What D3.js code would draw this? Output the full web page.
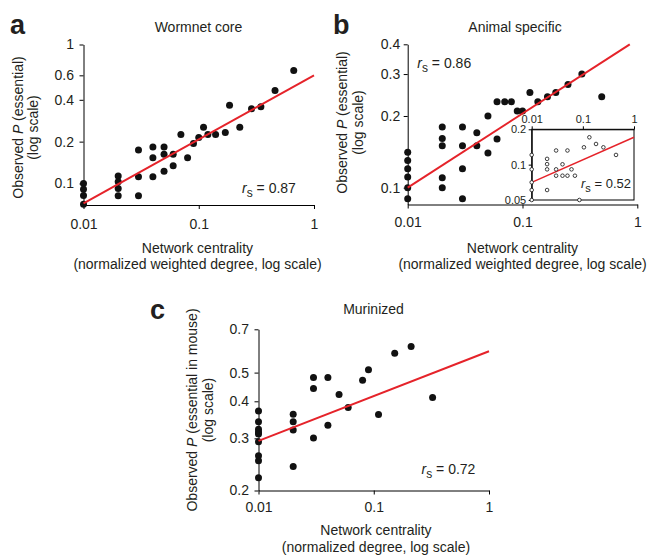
<!DOCTYPE html>
<html>
<head>
<meta charset="utf-8">
<script src="https://cdn.jsdelivr.net/npm/d3@7"></script>
<style>
  body { margin: 0; background: #fff; }
  svg text { font-family: "Liberation Sans", Arial, Helvetica, sans-serif; fill: #231f20; }
</style>
</head>
<body>
<svg id="chart" width="652" height="555"></svg>
<script>
// ---- data ----
var xTicks = [0.01, 0.1, 1];

// a: Wormnet core
var wormnetX = [0.01, 0.01, 0.01, 0.01, 0.02, 0.02, 0.02, 0.02, 0.03, 0.03, 0.03,
    0.04, 0.04, 0.04, 0.05, 0.05, 0.05, 0.06, 0.06, 0.07, 0.08, 0.09, 0.1, 0.11,
    0.12, 0.14, 0.17, 0.185, 0.227, 0.287, 0.346, 0.459, 0.667];
var wormnetY = [0.1, 0.091, 0.082, 0.071, 0.113, 0.103, 0.092, 0.0815, 0.174, 0.112, 0.0815,
    0.183, 0.153, 0.112, 0.183, 0.162, 0.1226, 0.162, 0.134, 0.225, 0.153, 0.194, 0.214, 0.254,
    0.225, 0.225, 0.233, 0.365, 0.254, 0.345, 0.357, 0.467, 0.65];
var wormnetFit = [[0.01, 0.072], [1, 0.6]];
var wormnetYTicks = [0.1, 0.2, 0.4, 0.6, 1];

// b: Animal specific
var animalX = [0.01, 0.01, 0.01, 0.01, 0.01, 0.01, 0.02, 0.02, 0.02, 0.02, 0.02,
    0.03, 0.03, 0.03, 0.03, 0.04, 0.04, 0.05, 0.05, 0.06, 0.06, 0.07, 0.08, 0.09, 0.1,
    0.116, 0.136, 0.165, 0.195, 0.249, 0.329, 0.49];
var animalY = [0.141, 0.13, 0.12, 0.111, 0.1, 0.0899, 0.18, 0.161, 0.15, 0.11, 0.1,
    0.18, 0.15, 0.12, 0.0899, 0.17, 0.15, 0.2, 0.14, 0.2295, 0.16, 0.2295, 0.2295, 0.21, 0.21,
    0.251, 0.2295, 0.241, 0.251, 0.2715, 0.3, 0.241];
var animalFit = [[0.01, 0.1], [0.86, 0.4]];
var animalYTicks = [0.1, 0.2, 0.3, 0.4];

// b inset
var insetX = [0.01, 0.01, 0.01, 0.01, 0.01, 0.02, 0.02, 0.02, 0.02, 0.03, 0.03, 0.03,
    0.04, 0.04, 0.05, 0.05, 0.06, 0.07, 0.0855, 0.105, 0.134, 0.181, 0.252, 0.445];
var insetY = [0.121, 0.0912, 0.0707, 0.0608, 0.05, 0.112, 0.101, 0.0912, 0.0608, 0.132, 0.0912, 0.0805,
    0.1007, 0.0805, 0.132, 0.0805, 0.0912, 0.0805, 0.05, 0.1405, 0.171, 0.15, 0.1405, 0.121];
var insetFit = [[0.01, 0.0707], [1, 0.171]];
var insetYTicks = [0.05, 0.1, 0.2];

// c: Murinized
var murinizedX = [0.01, 0.01, 0.01, 0.01, 0.01, 0.01, 0.01, 0.01, 0.01, 0.02, 0.02, 0.02, 0.02,
    0.03, 0.03, 0.03, 0.04, 0.04, 0.05, 0.06, 0.08, 0.09, 0.11, 0.152, 0.211, 0.324];
var murinizedY = [0.371, 0.341, 0.322, 0.315, 0.31, 0.292, 0.262, 0.252, 0.221, 0.362, 0.341, 0.32, 0.241,
    0.481, 0.442, 0.301, 0.481, 0.332, 0.422, 0.381, 0.471, 0.511, 0.361, 0.581, 0.612, 0.412];
var murinizedFit = [[0.01, 0.294], [1, 0.59]];
var murinizedYTicks = [0.2, 0.3, 0.4, 0.5, 0.7];

var RED = "#e5232a";
var svg = d3.select("#chart");
var fmt = function(d) { return String(d); };

function drawPanel(p) {
    var x = d3.scaleLog().domain([0.01, 1]).range(p.xRange);
    var y = d3.scaleLog().domain(p.yDomain).range(p.yRange);
    var g = svg.append("g");

    var xAxis = g.append("g")
        .attr("transform", "translate(0," + p.yRange[0] + ")")
        .call(d3.axisBottom(x).tickValues(xTicks).tickFormat(fmt)
            .tickSize(4).tickSizeOuter(0).tickPadding(p.xPad));
    var yAxis = g.append("g")
        .attr("transform", "translate(" + p.xRange[0] + ",0)")
        .call(d3.axisLeft(y).tickValues(p.yTicks).tickFormat(fmt)
            .tickSize(4).tickSizeOuter(0).tickPadding(p.yPad));
    [xAxis, yAxis].forEach(function(a) {
        a.selectAll("text").attr("font-size", "14px").attr("font-family", null);
        a.selectAll("path, line").attr("stroke", "#000");
    });

    g.selectAll("circle.dot")
        .data(d3.zip(p.xs, p.ys))
        .join("circle")
        .attr("class", "dot")
        .attr("cx", function(d) { return x(d[0]); })
        .attr("cy", function(d) { return y(d[1]); })
        .attr("r", 3.5)
        .attr("fill", "#111");

    g.append("path")
        .attr("d", d3.line().x(function(d) { return x(d[0]); }).y(function(d) { return y(d[1]); })(p.fit))
        .attr("stroke", RED)
        .attr("stroke-width", 2)
        .attr("fill", "none");

    // titles and labels
    g.append("text")
        .attr("x", p.letterPos[0]).attr("y", p.letterPos[1])
        .attr("font-size", "27px").attr("font-weight", "bold")
        .text(p.letter);
    g.append("text")
        .attr("x", p.titlePos[0]).attr("y", p.titlePos[1])
        .attr("font-size", "14px").attr("text-anchor", "middle")
        .text(p.title);

    var xl = g.append("text").attr("font-size", "14px").attr("text-anchor", "middle");
    xl.append("tspan").attr("x", p.xLabelX).attr("y", p.yRange[0] + p.xLabelOff[0]).text("Network centrality");
    xl.append("tspan").attr("x", p.xLabelX).attr("y", p.yRange[0] + p.xLabelOff[1]).text(p.xLabel2);

    var yl = g.append("g").attr("transform", "translate(0," + p.yLabelY + ") rotate(-90)");
    var l1 = yl.append("text").attr("x", 0).attr("y", p.yLabelX[0])
        .attr("font-size", "14px").attr("text-anchor", "middle");
    l1.append("tspan").text("Observed ");
    l1.append("tspan").attr("font-style", "italic").text("P");
    l1.append("tspan").text(p.yLabel1);
    yl.append("text").attr("x", 0).attr("y", p.yLabelX[1])
        .attr("font-size", "14px").attr("text-anchor", "middle")
        .text("(log scale)");

    drawRs(g, p.rsPos, p.rs, 14);
}

function drawRs(g, pos, value, size) {
    var t = g.append("text").attr("x", pos[0]).attr("y", pos[1]).attr("font-size", size + "px");
    t.append("tspan").attr("font-style", "italic").text("r");
    t.append("tspan").attr("font-size", (size - 2) + "px").attr("dy", 4).text("s");
    t.append("tspan").attr("dy", -4).text(" = " + value);
}

drawPanel({
    letter: "a", letterPos: [10, 34], title: "Wormnet core", titlePos: [198.5, 32],
    xs: wormnetX, ys: wormnetY, fit: wormnetFit, yTicks: wormnetYTicks,
    xRange: [83.5, 314], yDomain: [0.07, 1], yRange: [205, 44.5],
    xPad: 10, yPad: 5.5,
    xLabelX: 197.5, xLabelOff: [48, 64], xLabel2: "(normalized weighted degree, log scale)",
    yLabelY: 127.5, yLabelX: [22.5, 38.2], yLabel1: " (essential)",
    rsPos: [242, 192.5], rs: "0.87"
});

drawPanel({
    letter: "b", letterPos: [333, 34], title: "Animal specific", titlePos: [515, 32],
    xs: animalX, ys: animalY, fit: animalFit, yTicks: animalYTicks,
    xRange: [407.7, 637.3], yDomain: [0.085, 0.4], yRange: [204.5, 44.3],
    xPad: 9, yPad: 3.5,
    xLabelX: 522.5, xLabelOff: [48, 64], xLabel2: "(normalized weighted degree, log scale)",
    yLabelY: 122.5, yLabelX: [346.7, 362.5], yLabel1: " (essential)",
    rsPos: [417.3, 68.3], rs: "0.86"
});

drawPanel({
    letter: "c", letterPos: [150, 319], title: "Murinized", titlePos: [373.5, 314],
    xs: murinizedX, ys: murinizedY, fit: murinizedFit, yTicks: murinizedYTicks,
    xRange: [258.5, 489], yDomain: [0.2, 0.7], yRange: [490.5, 329.3],
    xPad: 8, yPad: 5.5,
    xLabelX: 376, xLabelOff: [44.5, 61], xLabel2: "(normalized degree, log scale)",
    yLabelY: 410, yLabelX: [197, 212.6], yLabel1: " (essential in mouse)",
    rsPos: [421.5, 474.3], rs: "0.72"
});

// ---- inset in panel b ----
(function() {
    var x = d3.scaleLog().domain([0.01, 1]).range([531.7, 634]);
    var y = d3.scaleLog().domain([0.05, 0.2]).range([200, 129.3]);
    var g = svg.append("g");

    g.append("rect")
        .attr("x", 531.7).attr("y", 129.3)
        .attr("width", 634 - 531.7).attr("height", 200 - 129.3)
        .attr("fill", "#fff").attr("stroke", "#000").attr("stroke-width", 1);

    var top = g.append("g").attr("transform", "translate(0,129.3)")
        .call(d3.axisTop(x).tickValues(xTicks).tickFormat(fmt).tickSize(3).tickSizeOuter(0).tickPadding(3));
    var left = g.append("g").attr("transform", "translate(531.7,0)")
        .call(d3.axisLeft(y).tickValues(insetYTicks).tickFormat(fmt).tickSize(3).tickSizeOuter(0).tickPadding(2.5));
    [top, left].forEach(function(a) {
        a.selectAll("text").attr("font-size", "11px").attr("font-family", null);
        a.selectAll("path, line").attr("stroke", "#000");
    });

    g.append("path")
        .attr("d", d3.line().x(function(d) { return x(d[0]); }).y(function(d) { return y(d[1]); })(insetFit))
        .attr("stroke", RED).attr("stroke-width", 1.5).attr("fill", "none");

    g.selectAll("circle.odot")
        .data(d3.zip(insetX, insetY))
        .join("circle")
        .attr("class", "odot")
        .attr("cx", function(d) { return x(d[0]); })
        .attr("cy", function(d) { return y(d[1]); })
        .attr("r", 1.8)
        .attr("fill", "#fff")
        .attr("stroke", "#111")
        .attr("stroke-width", 0.8);

    drawRs(g, [581, 188.3], "0.52", 13);
})();
</script>
</body>
</html>
